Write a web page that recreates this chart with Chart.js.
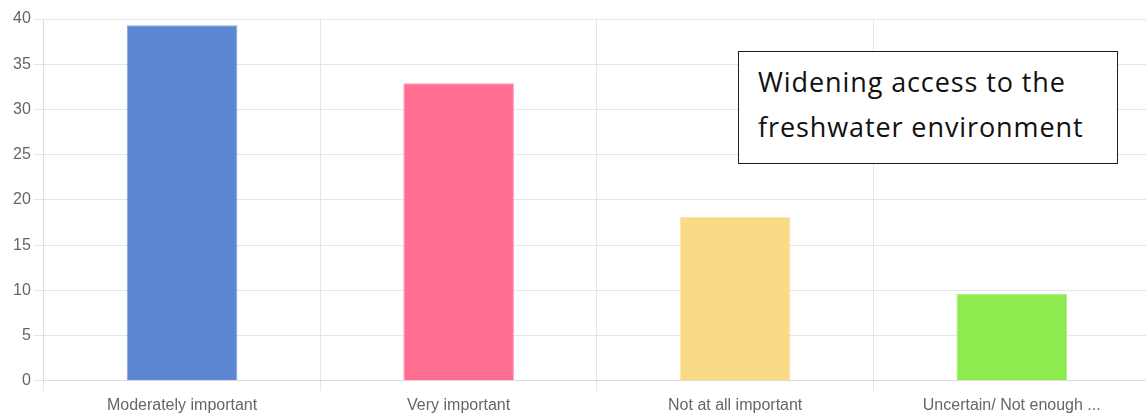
<!DOCTYPE html>
<html>
<head>
<meta charset="utf-8">
<script src="https://cdn.jsdelivr.net/npm/chart.js@4"></script>
<style>
  html, body { margin: 0; padding: 0; background: #fff; overflow: hidden; }
  #wrap { position: relative; width: 1150px; height: 421px; }
  #note {
    position: absolute; left: 738px; top: 51px; width: 359px; height: 111px;
    border: 1.5px solid #1e1e1e; background: #fff; box-sizing: content-box;
    font-family: "Open Sans", sans-serif; font-size: 27px; line-height: 45px;
    letter-spacing: 0.9px; color: #111; padding: 0 0 0 19px;
  }
  #note div:first-child { margin-top: 7px; }
</style>
</head>
<body>
<div id="wrap">
  <canvas id="chart"></canvas>
  <div id="note"><div>Widening access to the</div><div>freshwater environment</div></div>
</div>
<script>
// Responses per importance rating (%)
const categories = ["Moderately important", "Very important", "Not at all important", "Uncertain/ Not enough ..."];
const responses = [39.3, 32.9, 18.1, 9.6];
const yTicks = [0, 5, 10, 15, 20, 25, 30, 35, 40];

const fills = ["#5b87d4", "#ff6e92", "#f9da85", "#8deb4f"];
const edges = ["#86a6e0", "#ff9ab2", "#fbe6ad", "#b0f18a"];

new Chart(document.getElementById("chart"), {
  type: "bar",
  data: {
    labels: categories,
    datasets: [{
      data: responses,
      backgroundColor: fills,
      borderColor: edges,
      borderWidth: 1,
      categoryPercentage: 0.8,
      barPercentage: 0.5
    }]
  },
  options: {
    responsive: true,
    maintainAspectRatio: false,
    animation: false,
    layout: { padding: { top: 19, left: 10, right: 0, bottom: 1 } },
    plugins: { legend: { display: false }, tooltip: { enabled: false } },
    scales: {
      x: {
        grid: { color: "#e6e6e6", tickLength: 10 },
        border: { color: "#dcdcdc" },
        ticks: { color: "#666", font: { family: "Liberation Sans, Arial", size: 16 }, padding: 5 }
      },
      y: {
        min: 0, max: 40,
        afterBuildTicks: (axis) => { axis.ticks = yTicks.map(v => ({ value: v })); },
        grid: { color: "#e6e6e6", tickLength: 10 },
        border: { color: "#dcdcdc" },
        ticks: { color: "#666", font: { family: "Liberation Sans, Arial", size: 16 }, padding: 3 }
      }
    }
  }
});
</script>
</body>
</html>
